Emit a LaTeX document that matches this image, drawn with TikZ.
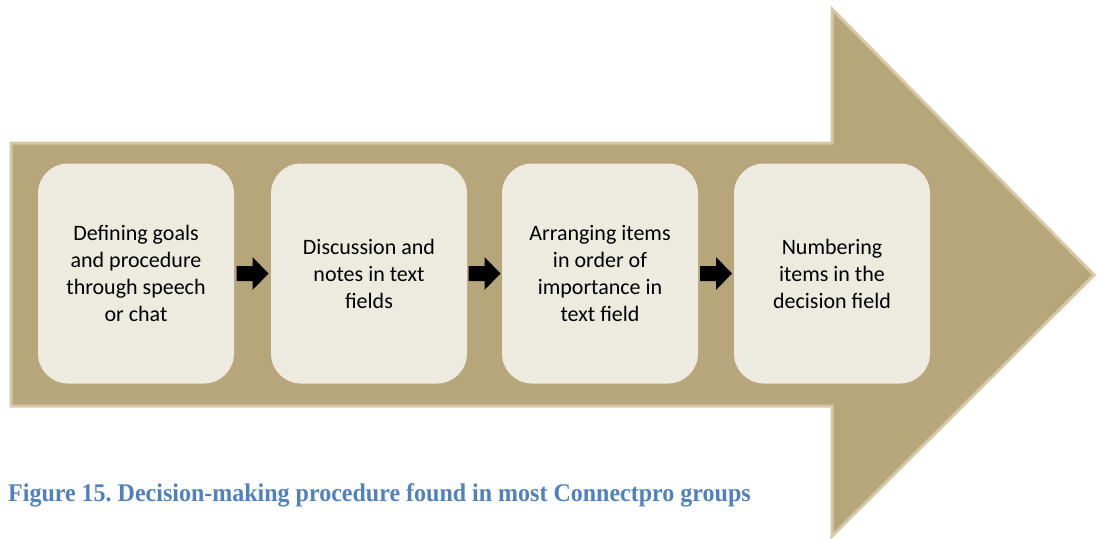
\documentclass[tikz,border=0pt]{standalone}
\usepackage{fontspec}
\setmainfont{Carlito}
\newfontfamily\captionfont{Liberation Serif}
\usetikzlibrary{calc}
\definecolor{arrowfill}{HTML}{B8A67B}
\definecolor{arrowedge}{HTML}{D6C8A4}
\definecolor{stepfill}{HTML}{EDEAE0}
\definecolor{captionblue}{HTML}{4F81BD}
\tikzset{
  stepbox/.style={draw=none, fill=stepfill, rounded corners=30pt,
    minimum width=196pt, minimum height=220pt, inner sep=0pt,
    align=center, text=black,
    font=\fontsize{22}{27}\selectfont},
  linkarrow/.style={fill=black, draw=none}
}
\begin{document}
\frenchspacing
\begin{tikzpicture}[x=1pt,y=-1pt]
\useasboundingbox (0,0) rectangle (1097,538);
% large block arrow carrying the steps
\draw[fill=arrowfill, draw=arrowedge, line width=3pt, line join=miter]
  (11,143) -- (832,143) -- (832,9) -- (1094,275) -- (832,536)
  -- (832,406) -- (11,406) -- cycle;
% the four steps
\node[stepbox] (s1) at (136,273.5) {Defining goals\\and procedure\\through speech\\or chat};
\node[stepbox] (s2) at (369,273.5) {Discussion and\\notes in text\\fields};
\node[stepbox] (s3) at (600,273.5) {Arranging items\\in order of\\importance in\\text field};
\node[stepbox] (s4) at (832,273.5) {Numbering\\items in the\\decision field};
% small block arrows between the steps
\foreach \a/\b in {s1/s2, s2/s3, s3/s4}{
  \fill[linkarrow] ($(\a.east)!0.5!(\b.west)$) ++(-16,-7.5) -- ++(16,0) -- ++(0,-9)
    -- ++(16,16.5) -- ++(-16,16.5) -- ++(0,-9) -- ++(-16,0) -- cycle;
}
% caption
\node[anchor=base west, inner sep=0pt, text=captionblue, yscale=1.06,
  font=\captionfont\bfseries\fontsize{24}{28}\selectfont] (cap) at (8,501)
  {Figure 15. Decision-making procedure found in most Connectpro groups};
\end{tikzpicture}
\end{document}
